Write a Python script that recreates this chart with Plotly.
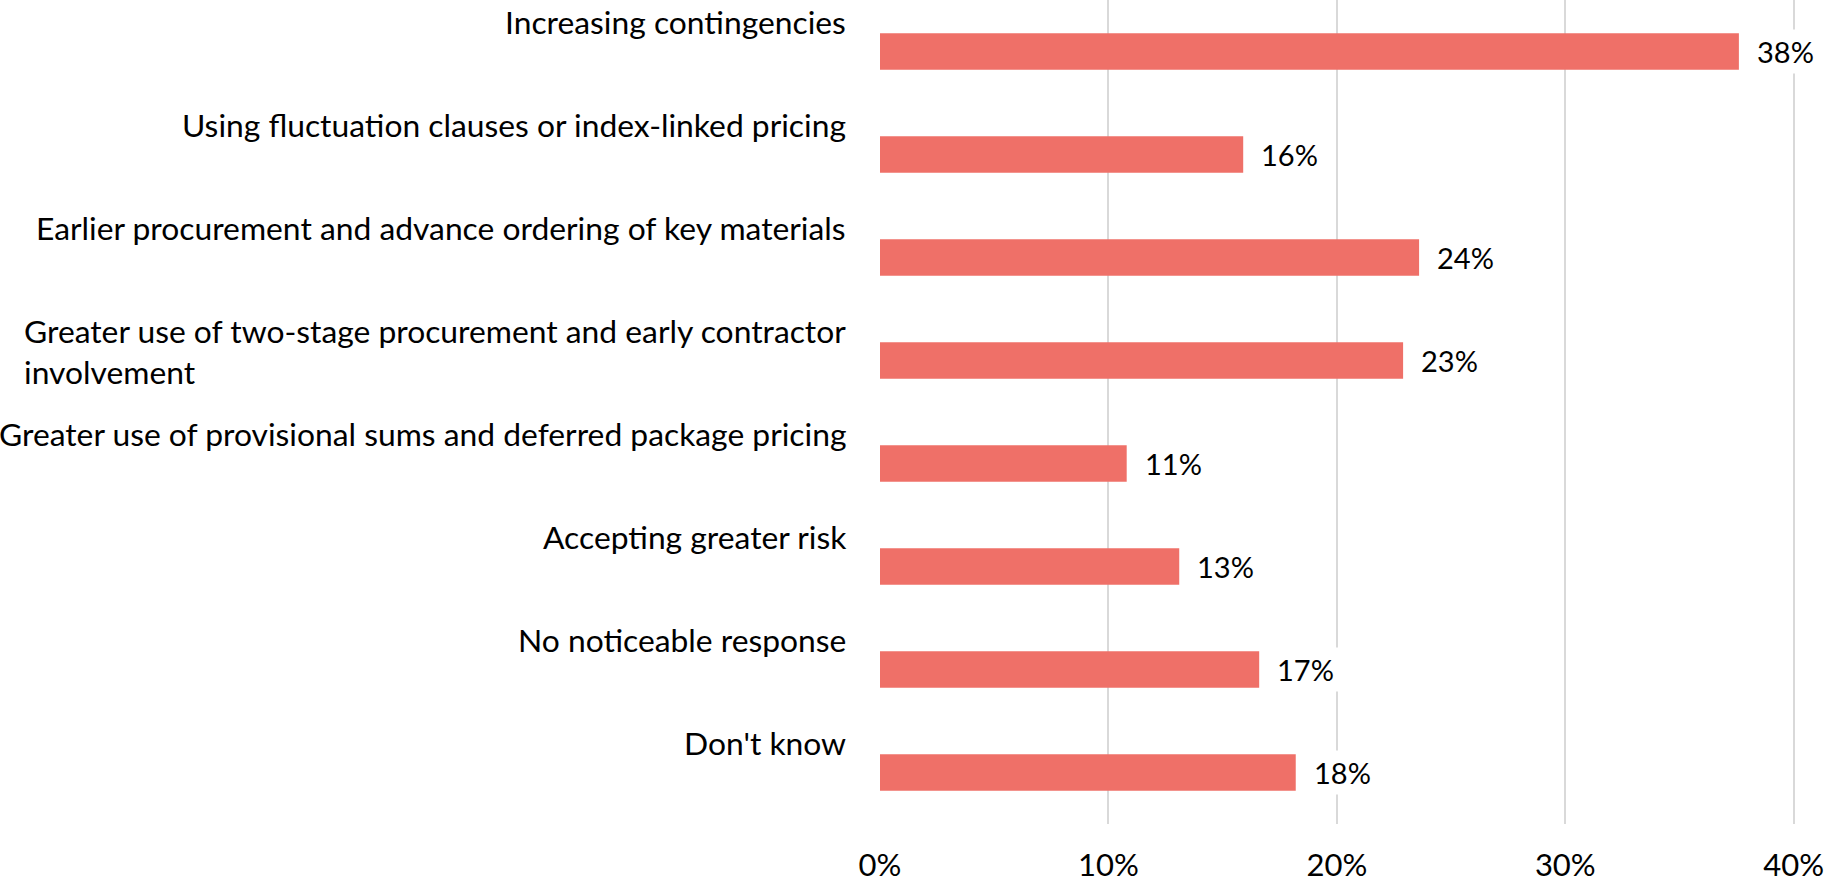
import plotly.graph_objects as go

categories = [
    "Increasing contingencies",
    "Using fluctuation clauses or index-linked pricing",
    "Earlier procurement and advance ordering of key materials",
    "Greater use of two-stage procurement and early contractor<br>involvement",
    "Greater use of provisional sums and deferred package pricing",
    "Accepting greater risk",
    "No noticeable response",
    "Don't know",
]
values = [37.6, 15.9, 23.6, 22.9, 10.8, 13.1, 16.6, 18.2]
tick_vals = [0, 10, 20, 30, 40]
tick_text = ["0%", "10%", "20%", "30%", "40%"]

BAR = "#EF7068"
FONT = "Lato"
idx = list(range(len(categories)))

fig = go.Figure()
fig.add_trace(go.Bar(
    x=values, y=idx, orientation="h",
    marker=dict(color=BAR, line=dict(width=0)),
    width=0.353,
    hoverinfo="skip",
))

annotations = []
for i, (c, v) in enumerate(zip(categories, values)):
    annotations.append(dict(
        x=0, xref="paper", y=i, yref="y",
        text=c, showarrow=False,
        xanchor="right", yanchor="top", align="left",
        xshift=-32, yshift=51,
        font=dict(family=FONT, size=31.8, color="#000000"),
    ))
    annotations.append(dict(
        x=v, xref="x", y=i, yref="y",
        text=f"{round(v)}%", showarrow=False,
        xanchor="left", yanchor="middle",
        xshift=13, bgcolor="white", borderpad=4,
        font=dict(family=FONT, size=29, color="#000000"),
    ))

fig.update_layout(
    width=1824, height=883,
    margin=dict(l=880, r=18, t=0, b=58),
    plot_bgcolor="white", paper_bgcolor="white",
    showlegend=False,
    annotations=annotations,
    xaxis=dict(
        range=[0, 40.1], tickvals=tick_vals, ticktext=tick_text,
        showgrid=True, gridcolor="#D9D9D9", gridwidth=2,
        zeroline=False, showline=False,
        ticks="outside", ticklen=14, tickcolor="rgba(0,0,0,0)",
        ticklabeloverflow="allow",
        tickfont=dict(family=FONT, size=31, color="#000000"),
    ),
    yaxis=dict(
        range=[7.5, -0.5], showticklabels=False, showgrid=False,
        zeroline=False, showline=False,
    ),
)

fig.write_html(
    "out.html",
    config={"displayModeBar": False},
    post_script="document.body.style.margin='0';document.body.style.overflow='hidden';",
)
